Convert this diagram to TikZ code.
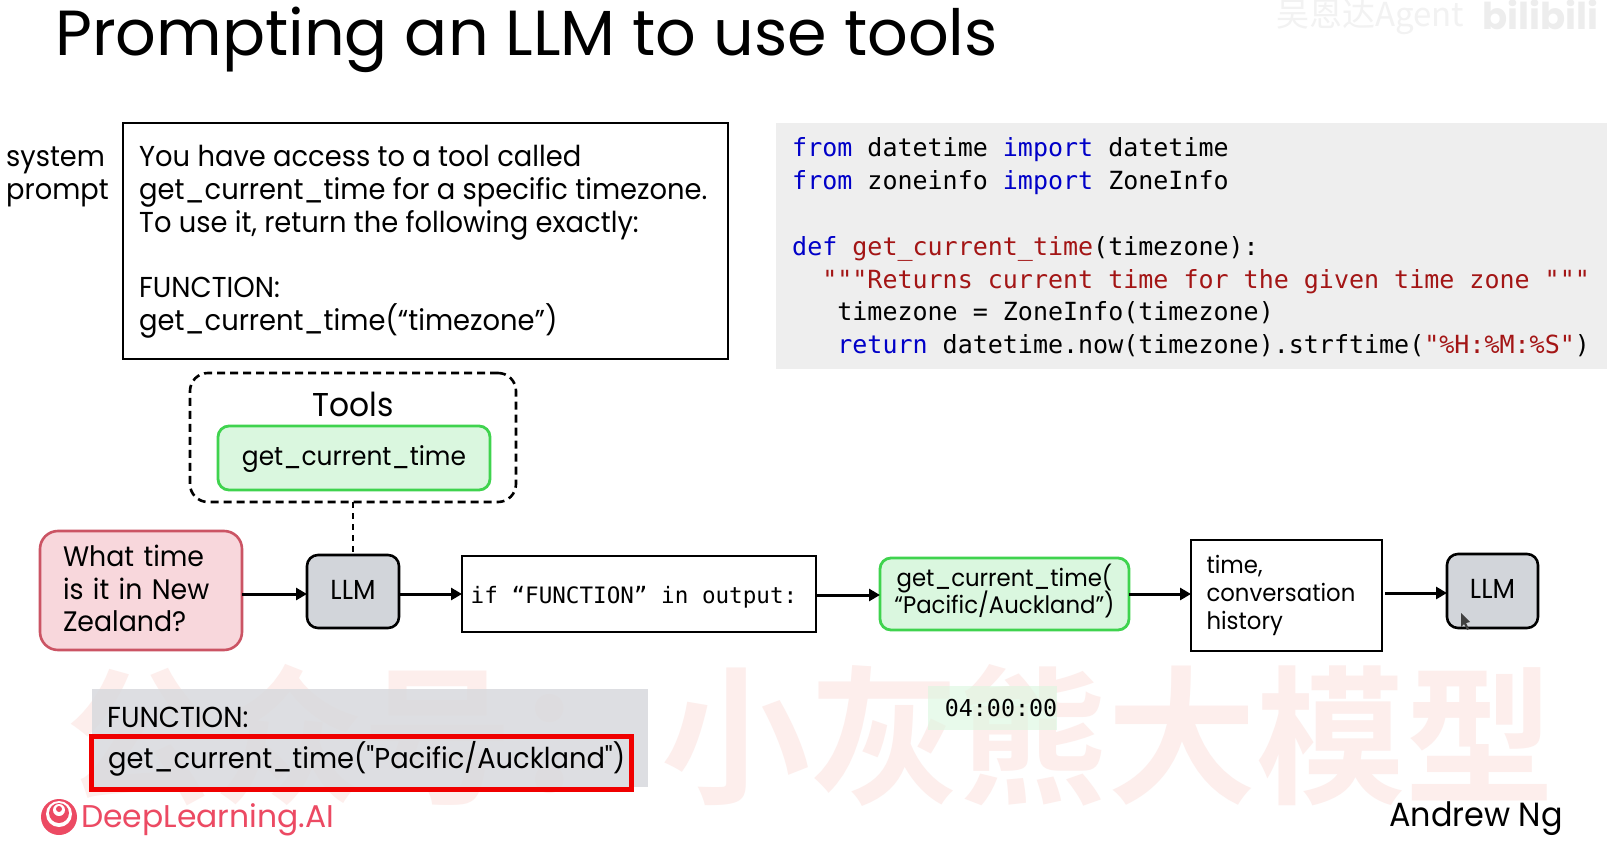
\documentclass[tikz,border=0pt]{standalone}
\usepackage{fontspec}
\setmainfont{Poppins}
\setmonofont{DejaVu Sans Mono}
\newfontfamily\popn{Poppins}[FakeStretch=0.95]
\newfontfamily\cjkwm{Noto Sans CJK SC}[BoldFont={Noto Sans CJK SC Bold}]
\usetikzlibrary{arrows.meta,positioning}
\normallineskiplimit=-100pt
\lineskiplimit=-100pt
\definecolor{kwblue}{HTML}{0000C8}
\definecolor{kwred}{HTML}{A31515}
\definecolor{pinkfill}{HTML}{F8D7DC}
\definecolor{pinkline}{HTML}{CB5464}
\definecolor{greenfill}{HTML}{DAF7DF}
\definecolor{greenline}{HTML}{3FD34E}
\definecolor{llmfill}{HTML}{D2D5DA}
\definecolor{codebg}{HTML}{EEEEEE}
\definecolor{funcbg}{HTML}{D8D9DD}
\definecolor{wmark}{HTML}{FDEEEC}
\definecolor{dlpink}{HTML}{EC4A63}
\tikzset{
  plainbox/.style={draw=black,line width=2.6pt,fill=white,anchor=north west,inner sep=0pt,outer sep=0pt,align=left},
  llmbox/.style={draw=black,line width=2.6pt,fill=llmfill,rounded corners=11pt,anchor=north west,inner sep=0pt,outer sep=0pt,font=\fontsize{27.5}{33}\popn},
  greenbox/.style={draw=greenline,line width=2.8pt,fill=greenfill,rounded corners=11pt,anchor=north west,inner sep=0pt,outer sep=0pt,align=center},
  flow/.style={-{Triangle[length=11pt,width=12pt]},line width=3pt,black},
  codeline/.style={anchor=base west,inner sep=0pt,font=\fontsize{25}{33}\ttfamily},
}
\begin{document}
\begin{tikzpicture}[x=1pt,y=-1pt]
\useasboundingbox (0,0) rectangle (1617,853);
\fill[white] (0,0) rectangle (1617,853);
% watermarks
\node[anchor=center,inner sep=0pt,text=wmark,font=\fontsize{149}{155}\cjkwm\bfseries] (wm) at (810,735) {公众号：小灰熊大模型};
\node[anchor=base west,inner sep=0pt,text=black!5,font=\fontsize{33}{36}\cjkwm] (wmtop) at (1276,27) {吴恩达Agent};
\node[anchor=base west,inner sep=0pt,text=black!7,font=\fontsize{37}{40}\selectfont\bfseries] (wmbili) at (1482,30) {bilibili};
% title
\node[anchor=base west,inner sep=0pt,font=\fontsize{63.7}{70}\selectfont] (title) at (55,56) {Prompting an LLM to use tools};
% system prompt
\node[anchor=north west,inner sep=0pt,align=left,font=\fontsize{28.7}{33}\popn] (sys) at (6,147) {system\\prompt};
\node[plainbox,minimum width=605pt,minimum height=236pt] (prompt) at (123,123) {};
\node[anchor=north west,inner sep=0pt,align=left,font=\fontsize{28.8}{32.8}\popn] (prompttext) at (139,145) {You have access to a tool called\\get\_current\_time for a specific timezone.\\To use it, return the following exactly:\\[33pt]FUNCTION:\\get\_current\_time(“timezone”)};
% code
\node[fill=codebg,anchor=north west,minimum width=831pt,minimum height=246pt,inner sep=0pt] (codebox) at (776,123) {};
\node[codeline] (c1) at (792,157) {\textcolor{kwblue}{from} datetime \textcolor{kwblue}{import} datetime};
\node[codeline] (c2) at (792,190) {\textcolor{kwblue}{from} zoneinfo \textcolor{kwblue}{import} ZoneInfo};
\node[codeline] (c3) at (792,255.5) {\textcolor{kwblue}{def} \textcolor{kwred}{get\_current\_time}(timezone):};
\node[codeline] (c4) at (792,288) {~~\textcolor{kwred}{"""Returns current time for the given time zone """}};
\node[codeline] (c5) at (792,320.5) {~~~timezone = ZoneInfo(timezone)};
\node[codeline] (c6) at (792,353) {~~~\textcolor{kwblue}{return} datetime.now(timezone).strftime(\textcolor{kwred}{"\%H:\%M:\%S"})};
% tools
\node[draw=black,dash pattern=on 8pt off 5pt,line width=2.6pt,rounded corners=18pt,anchor=north west,minimum width=326pt,minimum height=129pt,inner sep=0pt,outer sep=0pt] (tools) at (190,373) {};
\node[anchor=base,inner sep=0pt,font=\fontsize{33}{36}\popn] (toolslabel) at (353,416) {Tools};
\node[greenbox,minimum width=272pt,minimum height=64pt,text height=15pt,text depth=0pt,font=\fontsize{26.2}{33}\popn] (tool) at (218,426) {get\_current\_time};
% flow nodes
\node[draw=pinkline,line width=2.6pt,fill=pinkfill,rounded corners=18pt,anchor=north west,minimum width=202pt,minimum height=119pt,text width=156pt,inner sep=0pt,outer sep=0pt,align=left,font=\fontsize{28.2}{32.6}\popn] (user) at (40,531) {What time\\is it in New\\Zealand?\rule[-4pt]{0pt}{1pt}};
\node[llmbox,minimum width=92pt,minimum height=73pt,text height=16pt,text depth=0pt] (llma) at (307,555) {LLM};
\node[plainbox,minimum width=354pt,minimum height=76pt,align=center,text height=18pt,text depth=0pt,font=\fontsize{22.6}{28}\ttfamily] (cond) at (462,556) {if “FUNCTION” in output:\hspace*{10pt}};
\node[greenbox,minimum width=249pt,minimum height=72pt,font=\fontsize{24}{27.5}\popn] (call) at (880,558) {get\_current\_time(\\“Pacific/Auckland”)\rule[-10pt]{0pt}{1pt}};
\node[plainbox,minimum width=191pt,minimum height=111pt,text width=160pt,font=\fontsize{24}{27.6}\popn] (hist) at (1191,540) {time,\\conversation\\history};
\node[llmbox,minimum width=91pt,minimum height=74pt,text height=15pt,text depth=0pt] (llmb) at (1447,554) {LLM};
% connectors
\coordinate (ra) at (0,594);
\coordinate (rb) at (0,595);
\coordinate (rc) at (0,593);
\draw[dash pattern=on 6pt off 5pt,line width=1.8pt] (tools.south -| llma.north) -- (llma.north);
\draw[flow] (user.east |- ra) -- (llma.west |- ra);
\draw[flow] (llma.east |- ra) -- (cond.west |- ra);
\draw[flow] (cond.east |- rb) -- (call.west |- rb);
\draw[flow] (call.east |- ra) -- (hist.west |- ra);
\draw[flow] ([xshift=3pt]hist.east |- rc) -- (llmb.west |- rc);
% cursor
\fill[black!75] (1461,613) -- (1461,627) -- (1464,624) -- (1467,630) -- (1469,629) -- (1466,623) -- (1470,622) -- cycle;
% function output
\node[fill=funcbg,fill opacity=0.85,anchor=north west,minimum width=556pt,minimum height=98pt,inner sep=0pt] (funcbox) at (92,689) {};
\node[anchor=base west,inner sep=0pt,font=\fontsize{28.9}{30}\popn] (funclabel) at (107,727) {FUNCTION:};
\node[draw={rgb,255:red,240;green,0;blue,0},line width=5pt,anchor=north west,minimum width=540pt,minimum height=53pt,inner sep=0pt,outer sep=0pt] (funcbar) at (91,736) {};
\node[anchor=base west,inner sep=0pt,font=\fontsize{28.75}{33}\popn] (functext) at (108,768) {get\_current\_time("Pacific/Auckland")};
% result
\node[fill=greenfill,fill opacity=0.6,anchor=north west,minimum width=129pt,minimum height=44pt,inner sep=0pt] (resbox) at (928,686) {};
\node[anchor=center,inner sep=0pt,font=\fontsize{23.3}{28}\ttfamily] (res) at (1001,708) {04:00:00};
% logo
\fill[dlpink] (59,817) circle (18pt);
\fill[white] (59,814) circle (13pt);
\fill[dlpink] (59,813) circle (10pt);
\fill[white] (59,810) circle (6pt);
\fill[dlpink] (59,809) circle (3pt);
\node[anchor=base west,inner sep=0pt,text=dlpink,font=\fontsize{31.4}{36}\selectfont] (brand) at (81,827) {DeepLearning.AI};
\node[anchor=base east,inner sep=0pt,font=\fontsize{33.5}{36}\popn] (author) at (1563,826) {Andrew Ng};
\end{tikzpicture}
\end{document}
